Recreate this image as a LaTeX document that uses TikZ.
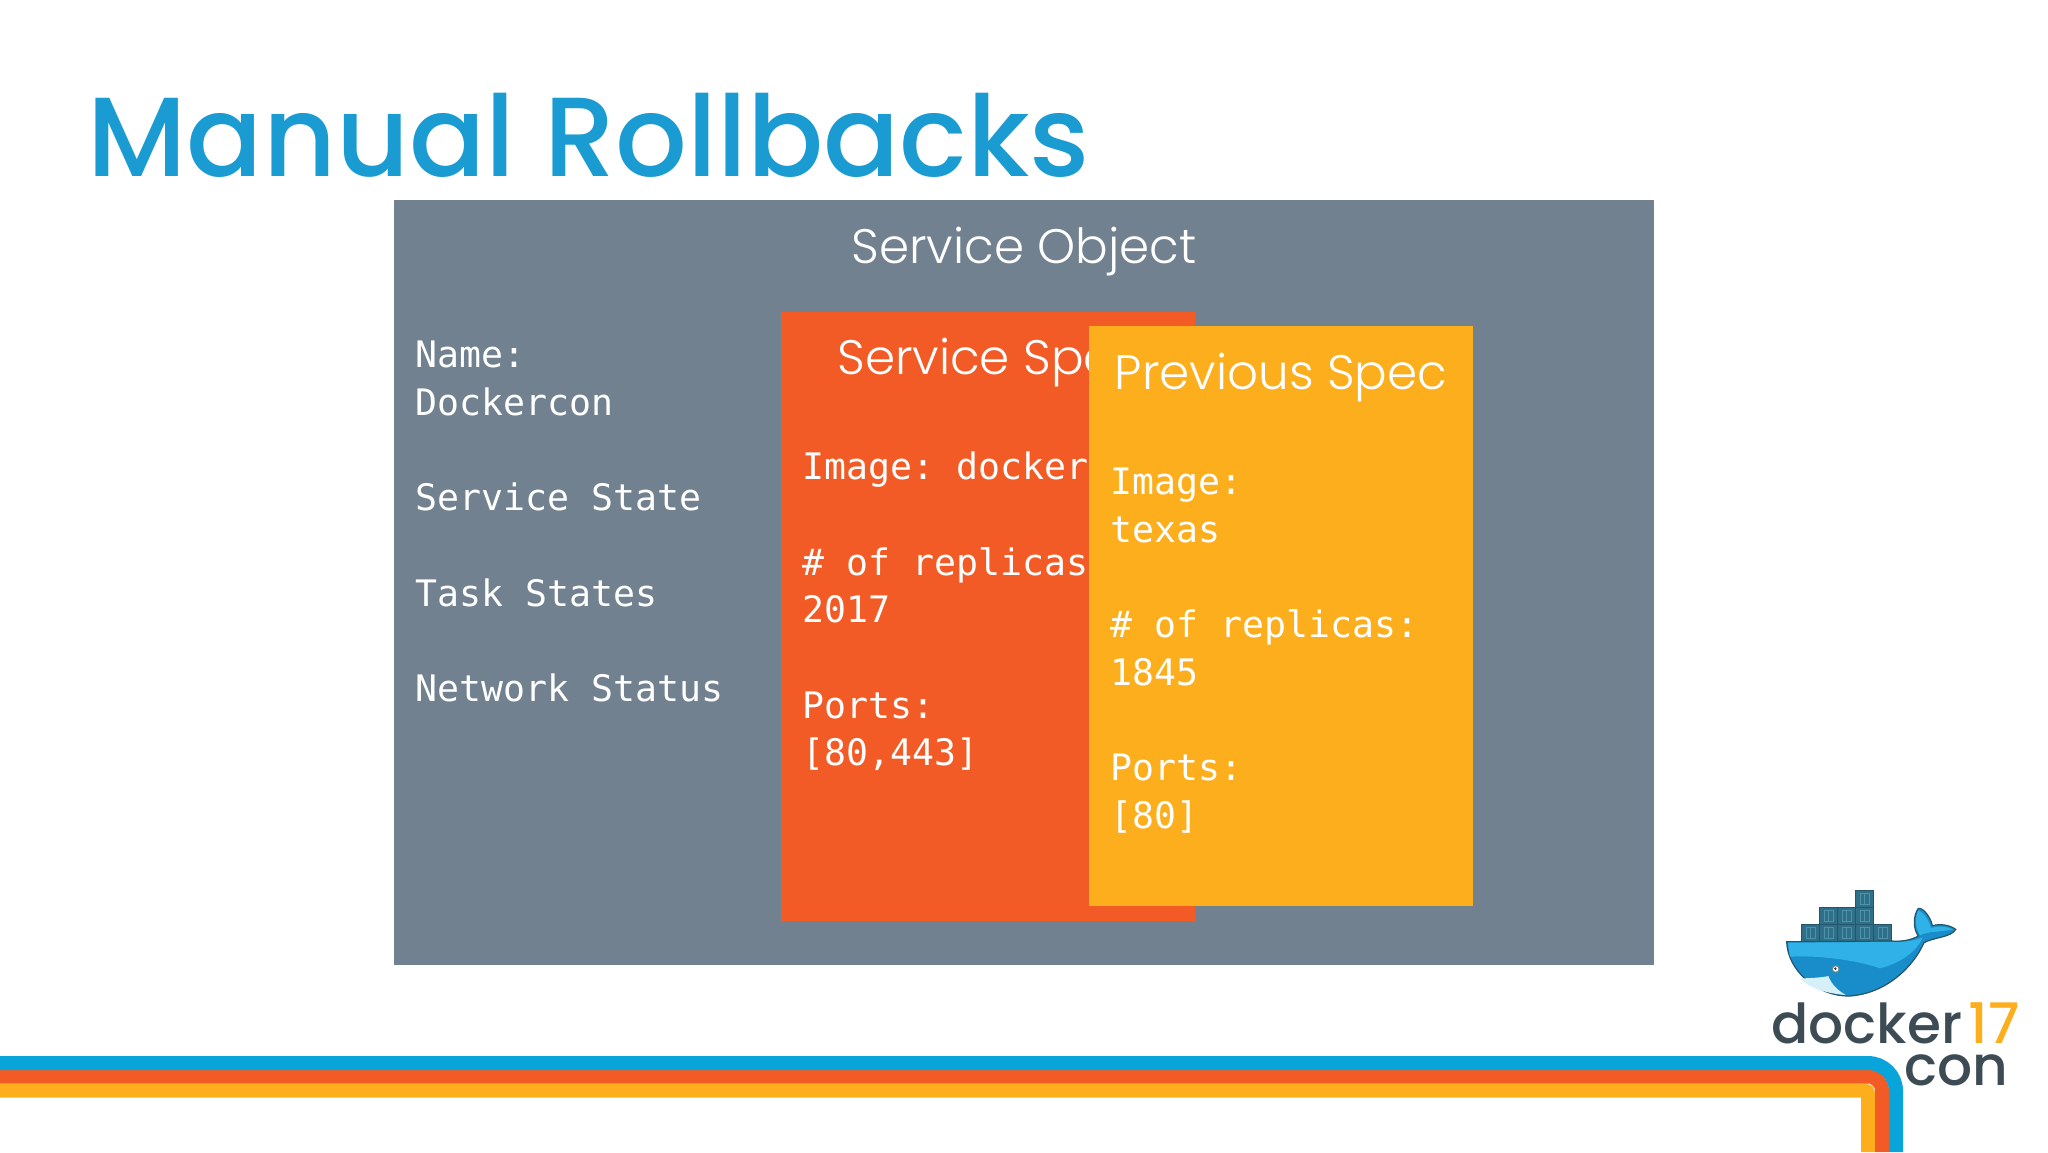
\documentclass[tikz,border=0pt]{standalone}
\usepackage{fontspec}
\setmainfont{Poppins}
\newfontfamily\titlefont{Poppins}[UprightFont=* Medium]
\newfontfamily\headfont{Poppins}[UprightFont=* Light]
\newfontfamily\codefont{DejaVu Sans Mono}
\frenchspacing
\definecolor{mytitleblue}{RGB}{26,155,210}
\definecolor{myslate}{RGB}{113,129,144}
\definecolor{mydarkorange}{RGB}{242,91,37}
\definecolor{mylightorange}{RGB}{252,174,29}
\definecolor{mystripeblue}{RGB}{9,165,218}
\definecolor{mycrate}{RGB}{47,111,136}
\definecolor{mycrateline}{RGB}{38,84,104}
\definecolor{mycraterib}{RGB}{78,146,170}
\definecolor{mywhale}{RGB}{24,141,201}
\definecolor{mywhaletop}{RGB}{48,178,232}
\definecolor{mylogotext}{RGB}{61,76,84}
\newcommand{\crate}[2]{
    \draw[crate] (#1,#2) rectangle ++(54,51);
    \draw[craterib] (#1,#2) ++(13,9) rectangle ++(28,33) ++(-14,0) -- ++(0,-33);
}
\tikzset{
    panel/.style={anchor=north west, inner sep=0pt, minimum width=#1},
    heading/.style={anchor=base, inner sep=0pt, text=white, font=\headfont\fontsize{24.2}{28}\selectfont},
    code/.style={anchor=north west, inner sep=0pt, text=white, align=left,
        font=\codefont\fontsize{18.25}{23.85}\selectfont},
    stripe/.style={line width=7pt, line cap=butt},
    crate/.style={fill=mycrate, draw=mycrateline, line width=.5pt},
    craterib/.style={draw=mycraterib, line width=.4pt},
    logotext/.style={anchor=base west, inner sep=0pt, font=\titlefont\fontsize{27.5}{30}\selectfont}
}
\begin{document}
\begin{tikzpicture}[x=.5pt, y=-.5pt]
    \useasboundingbox (0,0) rectangle (2048,1152);

    \node[anchor=base west, inner sep=0pt, text=mytitleblue, font=\titlefont\fontsize{56.3}{60}\selectfont] (title) at (87,176) {Manual Rollbacks};

    % service object
    \node[panel=629.75pt, minimum height=382.5pt, fill=myslate] (object) at (394,200) {};
    \node[heading] (objectHead) at (1024,263) {Service Object};
    \node[code] (objectText) at (415,340.5) {Name:\\Dockercon\\[23.85pt]Service State\\[23.85pt]Task States\\[23.85pt]Network Status};

    % current spec
    \node[panel=207pt, minimum height=304.5pt, fill=mydarkorange] (spec) at (780.5,312) {};
    \node[heading, anchor=base west] (specHead) at (837,374) {Service Spec};
    \node[code] (specText) at (802,451.5) {Image: docker\\[23.85pt]\# of replicas:\\2017\\[23.85pt]Ports:\\{}[80,443]};

    % previous spec
    \node[panel=192pt, minimum height=290pt, fill=mylightorange] (previous) at (1089,326) {};
    \node[heading] (previousHead) at (1281,389) {Previous Spec};
    \node[code] (previousText) at (1110,467.5) {Image:\\texas\\[23.85pt]\# of replicas:\\1845\\[23.85pt]Ports:\\{}[80]};

    % stripes
    \draw[stripe, draw=mylightorange, rounded corners=1.5pt] (0,1090.5) -- (1868,1090.5) -- (1868,1152);
    \draw[stripe, draw=mydarkorange, rounded corners=7pt] (0,1076.5) -- (1882,1076.5) -- (1882,1152);
    \draw[stripe, draw=mystripeblue, rounded corners=14pt] (0,1063) -- (1896,1063) -- (1896,1152);

    % logo
    \begin{scope}[shift={(1700,860)}, x=1/6*1pt, y=-1/6*1pt]
        \foreach \cx in {305,359,413,467,521} {\crate{\cx}{192}}
        \foreach \cx in {359,413,467} {\crate{\cx}{141}}
        \crate{467}{90}
        \draw[fill=mywhale, draw=mycrateline, line width=.6pt]
            (260,245) .. controls (262,330) and (350,410) .. (450,408)
            .. controls (560,400) and (640,320) .. (672,248)
            .. controls (700,232) and (755,232) .. (767,208)
            .. controls (745,192) and (715,192) .. (697,197)
            .. controls (692,170) and (668,142) .. (655,145)
            .. controls (640,165) and (638,205) .. (655,228)
            .. controls (630,242) and (600,245) .. (575,243) -- cycle;
        \fill[mywhaletop] (264,248) -- (575,246)
            .. controls (600,248) and (640,244) .. (668,232)
            .. controls (650,275) and (600,310) .. (540,325)
            .. controls (470,300) and (350,285) .. (270,290) -- cycle;
        \fill[mywhaletop] (655,152) .. controls (645,170) and (645,205) .. (660,226)
            .. controls (680,214) and (730,215) .. (760,208)
            .. controls (735,198) and (710,198) .. (692,204) .. controls (688,180) and (668,155) .. (655,152) -- cycle;
        \fill[mywhaletop!20!white] (303,355) .. controls (330,355) and (370,352) .. (385,348)
            .. controls (395,375) and (415,392) .. (437,405)
            .. controls (380,400) and (325,385) .. (303,355) -- cycle;
        \fill[mycrateline!70!white] (407,327) circle[radius=12];
        \fill[white] (407,327) circle[radius=8];
        \fill[black!80] (406,326) circle[radius=4];
    \end{scope}
    \node[logotext, text=mylogotext] (logoDocker) at (1771,1043) {docker};
    \node[logotext, text=mylightorange, font=\titlefont\fontsize{28}{30}\selectfont] (logoYear) at (1968,1043) {17};
    \node[logotext, text=mylogotext] (logoCon) at (1904,1085) {con};
\end{tikzpicture}
\end{document}
